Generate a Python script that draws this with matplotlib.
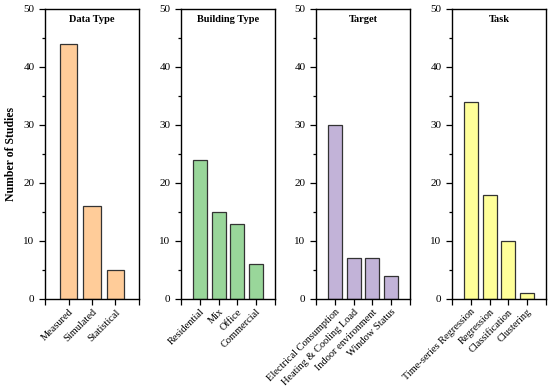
import matplotlib
matplotlib.use('Agg')
import matplotlib.pyplot as plt
import numpy as np
from matplotlib.ticker import MultipleLocator

plt.rcParams['font.family'] = 'Liberation Serif'

# dados de cada painel
titulos = ['Data Type', 'Building Type', 'Target', 'Task']
categorias = [
    ['Measured', 'Simulated', 'Statistical'],
    ['Residential', 'Mix', 'Office', 'Commercial'],
    ['Electrical Consumption', 'Heating & Cooling Load', 'Indoor environment', 'Window Status'],
    ['Time-series Regression', 'Regression', 'Classification', 'Clustering'],
]
valores = [
    [44, 16, 5],
    [24, 15, 13, 6],
    [30, 7, 7, 4],
    [34, 18, 10, 1],
]
cores = ['#FFCC99', '#99D69A', '#C2B3D8', '#FFFF99']

fig = plt.figure(figsize=(5.5, 3.86), dpi=100)
lefts = [45, 181, 316, 452]
for i in range(4):
    ax = fig.add_axes([lefts[i] / 550, 87 / 386, 94 / 550, 290 / 386])
    n = len(valores[i])
    x = np.arange(1, n + 1)
    ax.bar(x, valores[i], width=0.75, color=cores[i], edgecolor='#333333', linewidth=0.9)
    ax.set_xlim(0, n + 1)
    ax.set_ylim(0, 50)
    ax.set_xticks(np.arange(0, n + 2))
    ax.set_xticklabels([''] + categorias[i] + [''], rotation=45, ha='right',
                       rotation_mode='anchor', fontsize=7.5)
    ax.yaxis.set_major_locator(MultipleLocator(10))
    ax.yaxis.set_minor_locator(MultipleLocator(5))
    ax.tick_params(axis='y', which='major', direction='out', length=4, width=0.9, labelsize=8)
    ax.tick_params(axis='y', which='minor', direction='out', length=2.5, width=0.9)
    ax.tick_params(axis='x', direction='out', length=4, width=0.9, pad=2)
    for s in ax.spines.values():
        s.set_linewidth(1.0)
    ax.text(0.5, 0.965, titulos[i], transform=ax.transAxes, ha='center', va='center',
            fontsize=7.5, fontweight='bold')
    if i == 0:
        ax.set_ylabel('Number of Studies', fontsize=8.5, fontweight='bold', labelpad=5)

fig.savefig('out.png', dpi=100)
